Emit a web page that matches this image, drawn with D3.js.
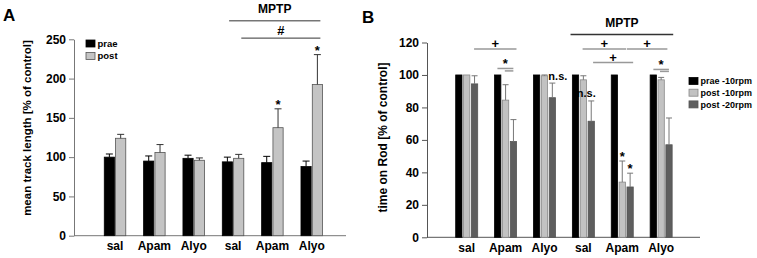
<!DOCTYPE html>
<html>
<head>
<meta charset="utf-8">
<script src="https://cdn.jsdelivr.net/npm/d3@7"></script>
<style>
  body { margin: 0; background: #fff; }
  svg { display: block; font-family: 'Liberation Sans', Arial, sans-serif; font-weight: bold; }
</style>
</head>
<body>
<div id="chart"></div>
<script>
// group labels (shared by both panels)
const groups = ['sal', 'Apam', 'Alyo', 'sal', 'Apam', 'Alyo'];

// panel A: mean track length [% of control]
const seriesA = ['prae', 'post'];
const praeA = [100, 95, 98.5, 94, 93, 88];
const praeAErr = [4, 6.5, 4, 6, 8, 7];
const postA = [124, 106, 96, 98.5, 137.5, 192.5];
const postAErr = [5, 10, 3, 5, 24, 38];
const postAStar = [false, false, false, false, true, true];
const ticksA = [0, 50, 100, 150, 200, 250];

// panel B: time on Rod [% of control]
const seriesB = ['prae -10rpm', 'post -10rpm', 'post -20rpm'];
const prae10 = [100, 100, 100, 100, 100, 100];
const post10 = [100, 84.5, 99.5, 97, 34, 97];
const post10Err = [0, 9.5, 0.5, 2.5, 13, 1.5];
const post20 = [94.5, 59, 86, 71.5, 31, 57];
const post20Err = [5, 13.5, 9, 12.5, 8.5, 16.5];
const post10Star = [false, false, false, false, true, false];
const post20Star = [false, false, false, false, true, false];
const ticksB = [0, 20, 40, 60, 80, 100, 120];

// significance brackets: group-index span and height in data units
const bracketsA = [
  { from: 2.9, to: 5.22, y: 273.5, label: 'MPTP' },
  { from: 3.21, to: 5.22, y: 251.5, label: '#' }
];
const bracketsB = [
  { from: 2.67, to: 5.31, y: 125, label: 'MPTP', dark: true },
  { from: 0.19, to: 1.28, y: 116, label: '+' },
  { from: 2.98, to: 4.1, y: 116, label: '+' },
  { from: 4.12, to: 5.16, y: 116, label: '+' },
  { from: 3.25, to: 4.28, y: 107.7, label: '+' },
  { from: 0.79, to: 1.2, y: 104, label: '*' },
  { from: 0.98, to: 1.2, y: 102.5, label: '' },
  { from: 4.8, to: 5.2, y: 103.4, label: '*' },
  { from: 4.97, to: 5.2, y: 102.2, label: '' }
];
const notesB = [
  { x: 2.1, y: 96.8, text: 'n.s.' },
  { x: 2.83, y: 86.3, text: 'n.s.' }
];

const W = 757, H = 258;
const svg = d3.select('#chart').append('svg').attr('width', W).attr('height', H);

const labelGap = { 'MPTP': 7.5, '#': 3, '+': 0.5, '*': 0.5, '': 0 };

function panel(cfg) {
  const g = svg.append('g');
  const y = d3.scaleLinear().domain(cfg.yDomain).range([cfg.bottom, cfg.top]);
  const x0 = d3.scaleBand().domain(d3.range(groups.length)).range(cfg.xRange)
    .paddingInner(cfg.pad).paddingOuter(cfg.pad / 2);
  const x1 = d3.scaleBand().domain(cfg.series).range([0, x0.bandwidth()]).paddingInner(cfg.innerPad);
  const gx = d3.scaleLinear().domain([0, groups.length - 1])
    .range([x0(0) + x0.bandwidth() / 2, x0(groups.length - 1) + x0.bandwidth() / 2]);

  // y axis
  const ya = g.append('g')
    .attr('transform', `translate(${cfg.left},0)`)
    .call(d3.axisLeft(y).tickValues(cfg.ticks).tickSize(5).tickSizeOuter(0).tickPadding(3));
  ya.select('.domain').attr('stroke', cfg.axisColor);
  ya.selectAll('.tick line').attr('stroke', cfg.axisColor);
  ya.selectAll('.tick text').attr('fill', '#000').style('font-size', '12px').style('font-weight', 'bold');

  // x axis baseline and labels
  g.append('line')
    .attr('x1', cfg.left).attr('x2', cfg.right)
    .attr('y1', y(0)).attr('y2', y(0))
    .attr('stroke', cfg.axisColor);
  const xa = g.append('g')
    .attr('transform', `translate(0,${y(0)})`)
    .call(d3.axisBottom(x0).tickSize(0).tickPadding(6).tickFormat(i => groups[i]));
  xa.select('.domain').remove();
  xa.selectAll('.tick text').attr('fill', '#000').style('font-size', '12px').style('font-weight', 'bold');

  // bars + error bars
  cfg.series.forEach((s, si) => {
    const st = cfg.styles[si];
    const data = groups.map((_, i) => ({
      i, v: cfg.values[si][i], e: cfg.errors[si] ? cfg.errors[si][i] : 0,
      star: cfg.stars[si] ? cfg.stars[si][i] : false
    }));
    const bg = g.append('g');
    bg.selectAll('rect').data(data).join('rect')
      .attr('x', d => x0(d.i) + x1(s))
      .attr('y', d => y(d.v))
      .attr('width', x1.bandwidth())
      .attr('height', d => y(0) - y(d.v))
      .attr('fill', st.fill)
      .attr('stroke', st.stroke)
      .attr('stroke-width', 0.8);

    const eg = bg.selectAll('g.err').data(data.filter(d => d.e > 0)).join('g').attr('class', 'err');
    const cx = d => x0(d.i) + x1(s) + x1.bandwidth() / 2;
    eg.append('line')
      .attr('x1', cx).attr('x2', cx)
      .attr('y1', d => y(d.v)).attr('y2', d => y(d.v + d.e))
      .attr('stroke', st.err).attr('stroke-width', 1);
    eg.append('line')
      .attr('x1', d => cx(d) - cfg.cap / 2).attr('x2', d => cx(d) + cfg.cap / 2)
      .attr('y1', d => y(d.v + d.e)).attr('y2', d => y(d.v + d.e))
      .attr('stroke', st.err).attr('stroke-width', 1);

    bg.selectAll('text.star').data(data.filter(d => d.star)).join('text')
      .attr('class', 'star')
      .attr('x', cx)
      .attr('y', d => y(d.v + d.e))
      .attr('text-anchor', 'middle')
      .style('font-size', '13px')
      .text('*');
  });

  // brackets
  cfg.brackets.forEach(b => {
    g.append('line')
      .attr('x1', gx(b.from)).attr('x2', gx(b.to))
      .attr('y1', y(b.y)).attr('y2', y(b.y))
      .attr('stroke', b.dark ? '#333' : cfg.bracketColor)
      .attr('stroke-width', cfg.bracketWidth);
    if (b.label) {
      g.append('text')
        .attr('x', gx((b.from + b.to) / 2))
        .attr('y', y(b.y) - labelGap[b.label])
        .attr('text-anchor', 'middle')
        .style('font-size', b.label === 'MPTP' ? '12px' : '13px')
        .text(b.label);
    }
  });
  (cfg.notes || []).forEach(n => {
    g.append('text')
      .attr('x', gx(n.x)).attr('y', y(n.y))
      .style('font-size', '11px')
      .text(n.text);
  });

  // legend
  const lg = g.append('g').attr('transform', `translate(${cfg.legend.x},${cfg.legend.y})`);
  cfg.series.forEach((s, si) => {
    const row = lg.append('g').attr('transform', `translate(0,${si * cfg.legend.dy})`);
    row.append('rect').attr('width', cfg.legend.w).attr('height', cfg.legend.h)
      .attr('y', -cfg.legend.h / 2)
      .attr('fill', cfg.styles[si].fill).attr('stroke', cfg.styles[si].stroke).attr('stroke-width', 0.8);
    row.append('text').attr('x', cfg.legend.w + 2.5).attr('y', 3.3)
      .style('font-size', cfg.legend.size).text(s);
  });

  // y label
  g.append('text')
    .attr('transform', `translate(${cfg.ylabX},${cfg.ylabY}) rotate(-90)`)
    .attr('text-anchor', 'middle')
    .style('font-size', cfg.ylabSize)
    .text(cfg.ylabel);

  // panel letter
  g.append('text').attr('x', cfg.letter.x).attr('y', cfg.letter.y)
    .style('font-size', '17px').text(cfg.letter.t);
}

panel({
  yDomain: [0, 250], top: 39.3, bottom: 235.7, left: 74, right: 346,
  xRange: [95.35, 331.4], pad: 1 - 21.5 / 39.34, innerPad: 0.1,
  ticks: ticksA, series: seriesA,
  values: [praeA, postA], errors: [praeAErr, postAErr], stars: [null, postAStar],
  styles: [
    { fill: '#000', stroke: '#000', err: '#000' },
    { fill: '#c4c4c4', stroke: '#555', err: '#333' }
  ],
  cap: 7, axisColor: '#777', bracketColor: '#333', bracketWidth: 1,
  brackets: bracketsA,
  legend: { x: 86, y: 43.5, dy: 12.5, w: 9, h: 7, size: '9.5px' },
  ylabel: 'mean track length [% of control]', ylabX: 31, ylabY: 128, ylabSize: '11.5px',
  letter: { x: 3, y: 21, t: 'A' }
});

panel({
  yDomain: [0, 120], top: 42.5, bottom: 237.3, left: 427, right: 700,
  xRange: [447.25, 680.6], pad: 1 - 22 / 38.89, innerPad: 0.2,
  ticks: ticksB, series: seriesB,
  values: [prae10, post10, post20], errors: [null, post10Err, post20Err], stars: [null, post10Star, post20Star],
  styles: [
    { fill: '#000', stroke: '#000', err: '#000' },
    { fill: '#c2c2c2', stroke: '#888', err: '#777' },
    { fill: '#5e5e5e', stroke: '#555', err: '#777' }
  ],
  cap: 6, axisColor: '#555', bracketColor: '#999', bracketWidth: 1.5,
  brackets: bracketsB, notes: notesB,
  legend: { x: 689, y: 81, dy: 11.7, w: 9, h: 7, size: '9px' },
  ylabel: 'time on Rod [% of control]', ylabX: 386.5, ylabY: 137.5, ylabSize: '12px',
  letter: { x: 362, y: 23, t: 'B' }
});
</script>
</body>
</html>
